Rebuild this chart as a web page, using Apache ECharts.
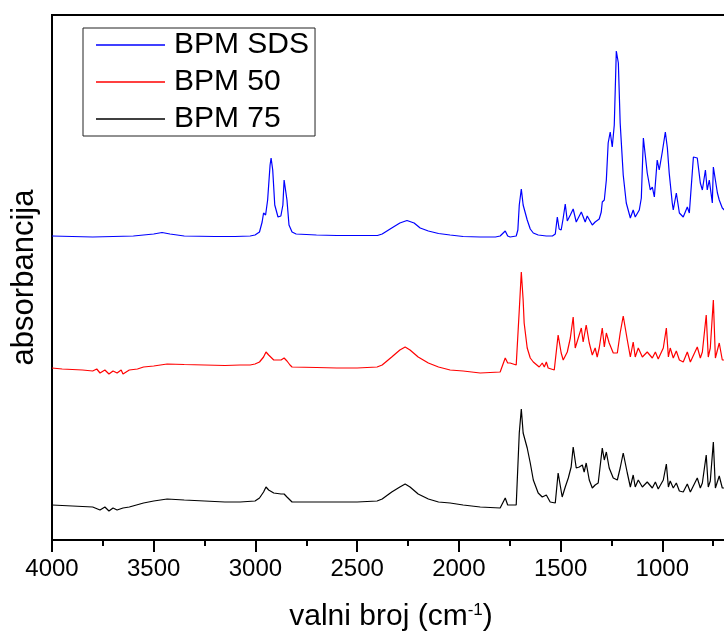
<!DOCTYPE html>
<html>
<head>
<meta charset="utf-8">
<script src="https://cdn.jsdelivr.net/npm/echarts@6/dist/echarts.min.js"></script>
<style>html,body{margin:0;padding:0;background:#fff}#c{width:724px;height:637px}</style>
</head>
<body>
<div id="c"></div>
<script>
var seriesNames = ['BPM SDS', 'BPM 50', 'BPM 75'];
var xTicks = [4000, 3500, 3000, 2500, 2000, 1500, 1000];

// [wavenumber (cm-1), absorbance (arb. units, offset)]
var bpmSDS = [[4000,3.04],[3900,3.035],[3800,3.03],[3700,3.035],[3600,3.04],[3500,3.06],[3459,3.075],[3420,3.06],[3350,3.04],[3200,3.035],[3100,3.035],[3026,3.04],[3002,3.05],[2980,3.08],[2967,3.18],[2960,3.27],[2950,3.25],[2940,3.40],[2928,3.75],[2923,3.82],[2915,3.70],[2905,3.35],[2889,3.23],[2875,3.24],[2865,3.35],[2859,3.60],[2854,3.62],[2845,3.40],[2835,3.15],[2820,3.08],[2800,3.06],[2700,3.05],[2600,3.045],[2500,3.045],[2400,3.045],[2377,3.06],[2330,3.12],[2290,3.17],[2255,3.195],[2220,3.17],[2190,3.12],[2150,3.09],[2100,3.065],[2043,3.05],[1979,3.035],[1895,3.03],[1820,3.03],[1797,3.04],[1772,3.09],[1760,3.04],[1748,3.03],[1718,3.04],[1710,3.10],[1703,3.35],[1693,3.51],[1684,3.35],[1664,3.20],[1649,3.11],[1634,3.07],[1610,3.05],[1570,3.04],[1540,3.04],[1526,3.06],[1516,3.23],[1507,3.11],[1497,3.10],[1487,3.22],[1477,3.36],[1467,3.19],[1452,3.25],[1438,3.31],[1423,3.18],[1398,3.28],[1379,3.18],[1369,3.24],[1344,3.15],[1330,3.18],[1310,3.21],[1300,3.28],[1295,3.38],[1285,3.40],[1275,3.60],[1266,3.97],[1256,4.08],[1246,3.93],[1236,4.15],[1226,4.89],[1216,4.77],[1207,4.17],[1192,3.65],[1177,3.37],[1157,3.22],[1143,3.30],[1133,3.23],[1113,3.30],[1103,3.42],[1093,4.02],[1074,3.67],[1059,3.50],[1049,3.53],[1039,3.43],[1025,3.80],[1015,3.70],[1000,3.88],[985,4.08],[975,3.92],[966,3.67],[951,3.37],[946,3.30],[931,3.47],[916,3.27],[897,3.23],[877,3.33],[867,3.27],[847,3.83],[828,3.82],[813,3.57],[803,3.50],[788,3.70],[779,3.50],[769,3.60],[754,3.37],[749,3.73],[729,3.47],[720,3.40],[705,3.32],[695,3.30]];

var bpm50 = [[4000,1.72],[3950,1.71],[3900,1.705],[3850,1.70],[3800,1.69],[3780,1.71],[3764,1.67],[3740,1.70],[3720,1.66],[3700,1.69],[3680,1.67],[3660,1.70],[3651,1.66],[3620,1.70],[3580,1.71],[3550,1.73],[3500,1.74],[3434,1.76],[3350,1.755],[3250,1.75],[3150,1.745],[3075,1.75],[3026,1.75],[3002,1.76],[2980,1.78],[2960,1.83],[2948,1.88],[2943,1.89],[2935,1.85],[2928,1.83],[2910,1.80],[2889,1.80],[2874,1.80],[2859,1.82],[2845,1.79],[2830,1.75],[2820,1.73],[2700,1.725],[2600,1.72],[2500,1.72],[2402,1.73],[2377,1.75],[2330,1.83],[2290,1.90],[2264,1.93],[2240,1.90],[2200,1.83],[2150,1.77],[2100,1.73],[2043,1.70],[1979,1.69],[1895,1.67],[1797,1.68],[1772,1.82],[1760,1.77],[1748,1.77],[1718,1.75],[1703,2.30],[1693,2.68],[1684,2.40],[1679,2.17],[1664,1.92],[1649,1.82],[1634,1.78],[1605,1.73],[1590,1.77],[1580,1.73],[1570,1.78],[1561,1.72],[1531,1.70],[1512,2.05],[1497,1.87],[1487,1.80],[1467,1.88],[1452,2.02],[1438,2.23],[1428,1.92],[1413,2.02],[1398,2.12],[1389,1.98],[1374,2.15],[1359,1.97],[1344,1.85],[1330,1.92],[1320,1.83],[1310,1.92],[1295,2.12],[1285,1.93],[1275,2.07],[1261,1.97],[1241,1.87],[1221,1.87],[1207,2.07],[1192,2.24],[1172,2.00],[1157,1.83],[1143,1.98],[1133,1.83],[1118,1.92],[1098,1.83],[1074,1.88],[1049,1.82],[1034,1.88],[1020,1.81],[995,1.92],[980,2.12],[970,1.83],[961,1.92],[946,1.82],[931,1.89],[916,1.80],[897,1.78],[877,1.88],[862,1.78],[828,1.93],[813,1.82],[803,1.88],[784,2.25],[774,1.83],[764,1.92],[749,2.40],[739,1.82],[720,1.97],[705,1.80],[695,1.80]];

var bpm75 = [[4000,0.35],[3900,0.34],[3800,0.33],[3764,0.30],[3740,0.33],[3720,0.29],[3700,0.32],[3680,0.30],[3651,0.32],[3620,0.33],[3550,0.37],[3500,0.39],[3434,0.41],[3350,0.40],[3250,0.39],[3150,0.38],[3075,0.38],[3002,0.39],[2980,0.42],[2960,0.48],[2948,0.53],[2935,0.50],[2928,0.49],[2910,0.47],[2874,0.46],[2859,0.46],[2845,0.43],[2820,0.38],[2700,0.38],[2600,0.38],[2500,0.38],[2402,0.39],[2377,0.41],[2330,0.48],[2290,0.53],[2264,0.56],[2240,0.53],[2200,0.46],[2150,0.41],[2100,0.38],[2043,0.37],[1979,0.35],[1895,0.33],[1797,0.32],[1772,0.42],[1760,0.35],[1718,0.35],[1703,1.07],[1693,1.31],[1684,1.07],[1664,0.92],[1649,0.77],[1634,0.60],[1610,0.47],[1590,0.43],[1570,0.45],[1551,0.38],[1526,0.37],[1512,0.67],[1492,0.43],[1477,0.53],[1462,0.62],[1448,0.73],[1438,0.93],[1423,0.72],[1408,0.73],[1393,0.75],[1384,0.68],[1374,0.77],[1359,0.60],[1344,0.52],[1330,0.55],[1315,0.57],[1295,0.92],[1285,0.80],[1275,0.88],[1261,0.72],[1241,0.62],[1221,0.60],[1207,0.72],[1192,0.87],[1172,0.67],[1157,0.53],[1143,0.65],[1133,0.53],[1118,0.60],[1098,0.53],[1074,0.58],[1049,0.52],[1034,0.58],[1020,0.51],[995,0.60],[980,0.76],[970,0.53],[961,0.59],[946,0.52],[931,0.57],[916,0.49],[897,0.48],[877,0.56],[862,0.48],[828,0.62],[813,0.52],[803,0.57],[784,0.85],[774,0.53],[764,0.59],[749,0.98],[739,0.52],[720,0.64],[705,0.52],[695,0.52]];

var colors = ['#0000ff', '#ff0000', '#000000'];
var font = "'Liberation Sans', Arial, sans-serif";
var chart = echarts.init(document.getElementById('c'), null, {renderer: 'canvas'});
chart.setOption({
  animation: false,
  backgroundColor: '#ffffff',
  grid: {left: 52, top: 15, right: -40, bottom: 97, show: true, borderColor: '#000', borderWidth: 2, outerBoundsMode: 'none', containLabel: false},
  legend: {
    data: seriesNames, orient: 'vertical', left: 83, top: 28,
    icon: 'rect', itemWidth: 69, itemHeight: 1.5, itemGap: 5,
    padding: [1, 6, 1, 13], borderColor: '#222', borderWidth: 1,
    textStyle: {fontFamily: font, fontSize: 30, color: '#000', lineHeight: 32, padding: [0, 0, 0, 4]}
  },
  xAxis: {
    type: 'value', inverse: true, min: 500, max: 4000, interval: 500,
    name: 'valni broj (cm{sup|-1})', nameLocation: 'middle', nameGap: 62,
    nameTextStyle: {fontFamily: font, fontSize: 30, color: '#000', padding: [0, 34, 0, 0],
      rich: {sup: {fontFamily: font, fontSize: 17, verticalAlign: 'top', padding: [0, 0, 12, 0]}}},
    axisLine: {lineStyle: {color: '#000', width: 2}},
    axisTick: {show: true, length: 12, lineStyle: {color: '#000', width: 2}},
    minorTick: {show: true, splitNumber: 2, length: 6, lineStyle: {color: '#000', width: 2}},
    axisLabel: {fontFamily: font, fontSize: 24, color: '#000', margin: 17,
      formatter: function (v) { return xTicks.indexOf(v) >= 0 ? String(v) : ''; }},
    splitLine: {show: false}
  },
  yAxis: {
    type: 'value', min: 0, max: 5.25,
    name: 'absorbancija', nameLocation: 'middle', nameGap: 12,
    nameTextStyle: {fontFamily: font, fontSize: 31, color: '#000'},
    axisLine: {show: true, lineStyle: {color: '#000', width: 2}},
    axisTick: {show: false}, axisLabel: {show: false}, splitLine: {show: false}
  },
  series: [
    {name: seriesNames[0], type: 'line', data: bpmSDS, symbol: 'none', lineStyle: {color: colors[0], width: 1.2}, itemStyle: {color: colors[0]}},
    {name: seriesNames[1], type: 'line', data: bpm50, symbol: 'none', lineStyle: {color: colors[1], width: 1.2}, itemStyle: {color: colors[1]}},
    {name: seriesNames[2], type: 'line', data: bpm75, symbol: 'none', lineStyle: {color: colors[2], width: 1.2}, itemStyle: {color: colors[2]}}
  ]
});
</script>
</body>
</html>
